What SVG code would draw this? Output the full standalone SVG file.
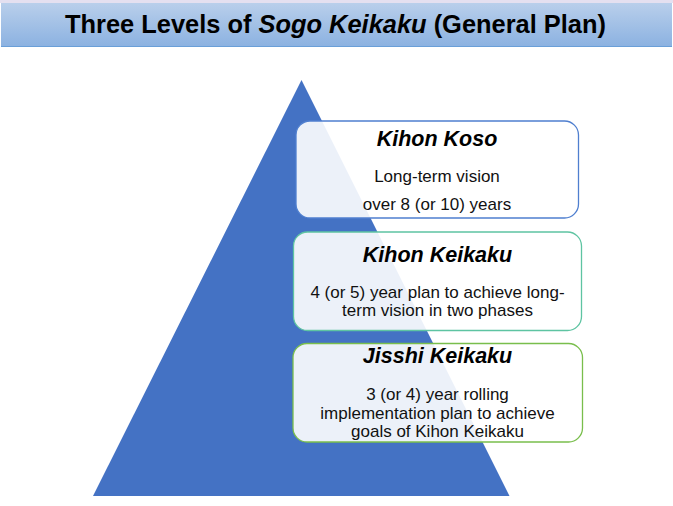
<svg xmlns="http://www.w3.org/2000/svg" width="673" height="506" viewBox="0 0 673 506">
<defs>
<linearGradient id="bar" x1="0" y1="0" x2="0" y2="1">
<stop offset="0" stop-color="#b9cfeb"/>
<stop offset="1" stop-color="#8cb2e1"/>
</linearGradient>
</defs>
<style>
.box{fill:#ffffff;fill-opacity:0.9;stroke-width:1.3}
.hd{font-family:"Liberation Sans",Arial,sans-serif;font-weight:bold;font-style:italic;font-size:21.5px;fill:#000;text-anchor:middle}
.tx{font-family:"Liberation Sans",Arial,sans-serif;font-size:17px;fill:#111;text-anchor:middle}
</style>
<rect x="0" y="0" width="673" height="506" fill="#ffffff"/>
<g id="title">
<rect x="0" y="0" width="673" height="3" fill="#e4e0f0"/>
<rect x="1" y="3" width="671" height="43" fill="url(#bar)"/>
<line x1="1" y1="46.5" x2="672" y2="46.5" stroke="#6a9fd8" stroke-width="1.2"/>
<text x="335.5" y="33" font-family="'Liberation Sans',Arial,sans-serif" font-weight="bold" font-size="25px" text-anchor="middle" fill="#000" textLength="541" lengthAdjust="spacingAndGlyphs">Three Levels of <tspan font-style="italic">Sogo Keikaku</tspan> (General Plan)</text>
</g>
<g id="pyramid">
<polygon points="301.5,80 93,496 509.5,496" fill="#4472c4"/>
</g>
<g id="kihon-koso">
<rect class="box" x="296" y="121" width="282.5" height="97" rx="14" stroke="#4f7fcf"/>
<text class="hd" x="437" y="146">Kihon Koso</text>
<text class="tx" x="437" y="181.5">Long-term vision</text>
<text class="tx" x="437" y="209.5">over 8 (or 10) years</text>
</g>
<g id="kihon-keikaku">
<rect class="box" x="293.5" y="232" width="288" height="98.5" rx="14" stroke="#5ec4a2"/>
<text class="hd" x="437.5" y="261.5">Kihon Keikaku</text>
<text class="tx" x="437.5" y="297.5">4 (or 5) year plan to achieve long-</text>
<text class="tx" x="437.5" y="315.5">term vision in two phases</text>
</g>
<g id="jisshi-keikaku">
<rect class="box" x="293" y="343.5" width="289.5" height="98.5" rx="14" stroke="#79be4c"/>
<text class="hd" x="437.5" y="363">Jisshi Keikaku</text>
<text class="tx" x="437.5" y="400">3 (or 4) year rolling</text>
<text class="tx" x="437.5" y="418.5">implementation plan to achieve</text>
<text class="tx" x="437.5" y="436.5">goals of Kihon Keikaku</text>
</g>
<g id="connectors"/>
</svg>
